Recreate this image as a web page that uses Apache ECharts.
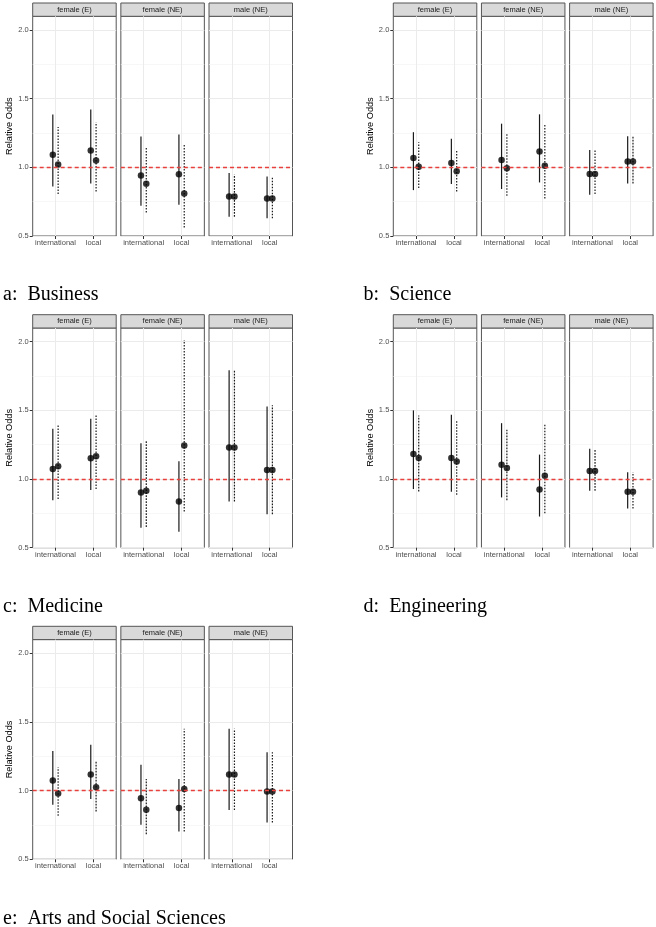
<!DOCTYPE html>
<html><head><meta charset="utf-8">
<script src="https://cdn.jsdelivr.net/npm/echarts@6/dist/echarts.min.js"></script>
<style>html,body{margin:0;padding:0;background:#fff}#c{width:656px;height:927px}</style>
</head><body><div id="c"></div>
<script>
// ---- data ----
const facets = ['female (E)', 'female (NE)', 'male (NE)'];
const categories = ['international', 'local'];
const panelTitles = ['a:  Business', 'b:  Science', 'c:  Medicine', 'd:  Engineering', 'e:  Arts and Social Sciences'];
const yTicks = [0.5, 1.0, 1.5, 2.0];
const refLine = 1.0;
// order: [F(E) intl, F(E) local, F(NE) intl, F(NE) local, M(NE) intl, M(NE) local]
const businessSolidMid  = [1.091, 1.122, 0.941, 0.949, 0.788, 0.773];
const businessSolidLo   = [0.861, 0.883, 0.720, 0.727, 0.641, 0.629];
const businessSolidHi   = [1.384, 1.422, 1.225, 1.239, 0.959, 0.934];
const businessDottedMid = [1.020, 1.049, 0.881, 0.810, 0.788, 0.773];
const businessDottedLo  = [0.805, 0.824, 0.671, 0.561, 0.641, 0.629];
const businessDottedHi  = [1.293, 1.329, 1.152, 1.164, 0.947, 0.932];

const scienceSolidMid  = [1.068, 1.032, 1.054, 1.115, 0.951, 1.042];
const scienceSolidLo   = [0.834, 0.878, 0.842, 0.890, 0.800, 0.883];
const scienceSolidHi   = [1.256, 1.208, 1.318, 1.386, 1.127, 1.227];
const scienceDottedMid = [1.005, 0.971, 0.993, 1.012, 0.951, 1.042];
const scienceDottedLo  = [0.849, 0.824, 0.793, 0.773, 0.805, 0.883];
const scienceDottedHi  = [1.183, 1.130, 1.244, 1.312, 1.127, 1.227];

const medicineSolidMid  = [1.073, 1.151, 0.902, 0.837, 1.229, 1.066];
const medicineSolidLo   = [0.846, 0.920, 0.646, 0.617, 0.837, 0.744];
const medicineSolidHi   = [1.366, 1.439, 1.261, 1.129, 1.793, 1.529];
const medicineDottedMid = [1.093, 1.166, 0.915, 1.244, 1.229, 1.066];
const medicineDottedLo  = [0.854, 0.927, 0.651, 0.763, 0.837, 0.744];
const medicineDottedHi  = [1.395, 1.468, 1.285, 2.012, 1.793, 1.537];

const engineeringSolidMid  = [1.183, 1.154, 1.105, 0.924, 1.059, 0.907];
const engineeringSolidLo   = [0.927, 0.907, 0.866, 0.727, 0.915, 0.785];
const engineeringSolidHi   = [1.500, 1.468, 1.407, 1.178, 1.220, 1.049];
const engineeringDottedMid = [1.154, 1.127, 1.080, 1.024, 1.059, 0.907];
const engineeringDottedLo  = [0.910, 0.885, 0.846, 0.751, 0.915, 0.785];
const engineeringDottedHi  = [1.463, 1.427, 1.359, 1.395, 1.215, 1.049];

const artsSolidMid  = [1.073, 1.117, 0.944, 0.873, 1.117, 0.993];
const artsSolidLo   = [0.898, 0.939, 0.751, 0.702, 0.859, 0.768];
const artsSolidHi   = [1.288, 1.334, 1.188, 1.085, 1.451, 1.280];
const artsDottedMid = [0.980, 1.024, 0.861, 1.012, 1.117, 0.993];
const artsDottedLo  = [0.817, 0.849, 0.683, 0.702, 0.859, 0.768];
const artsDottedHi  = [1.171, 1.215, 1.085, 1.451, 1.451, 1.280];

const panelData = [
  [businessSolidMid, businessSolidLo, businessSolidHi, businessDottedMid, businessDottedLo, businessDottedHi],
  [scienceSolidMid, scienceSolidLo, scienceSolidHi, scienceDottedMid, scienceDottedLo, scienceDottedHi],
  [medicineSolidMid, medicineSolidLo, medicineSolidHi, medicineDottedMid, medicineDottedLo, medicineDottedHi],
  [engineeringSolidMid, engineeringSolidLo, engineeringSolidHi, engineeringDottedMid, engineeringDottedLo, engineeringDottedHi],
  [artsSolidMid, artsSolidLo, artsSolidHi, artsDottedMid, artsDottedLo, artsDottedHi]
];

// ---- layout ----
const PANEL_X = [0, 360.6, 0, 360.6, 0];
const PANEL_Y = [0, 0, 311.7, 311.7, 623.3];
const FACET_LEFT0 = 32.7, FACET_STEP = 88.15, FACET_W = 83.5;
const PLOT_TOP = 16.3, PLOT_H = 219.7, STRIP_TOP = 3, STRIP_H = 13.3;
const X_MIN = 0.4, X_MAX = 2.6;
const DODGE = 0.07;
const SANS = 'Liberation Sans, Arial, sans-serif';

const grids = [], xAxes = [], yAxes = [], series = [], graphics = [];

function errRender(dashed) {
  return function (params, api) {
    const x = api.value(0), lo = api.value(1), hi = api.value(2);
    const p1 = api.coord([x, lo]), p2 = api.coord([x, hi]);
    return {
      type: 'line',
      shape: { x1: p1[0], y1: p1[1], x2: p2[0], y2: p2[1] },
      style: { stroke: '#1a1a1a', lineWidth: 1.2, lineDash: dashed ? [1.6, 1.4] : null }
    };
  };
}

function refRender(params, api) {
  const y = api.value(0);
  const p1 = api.coord([X_MIN, y]), p2 = api.coord([X_MAX, y]);
  const py = Math.floor(p1[1]) + 0.5; // crisp pixel row
  return {
    type: 'line', z2: 50,
    shape: { x1: p1[0], y1: py, x2: p2[0], y2: py },
    style: { stroke: '#e8403c', lineWidth: 1.4, lineDash: [4, 3] }
  };
}

panelData.forEach((pd, p) => {
  const [sMid, sLo, sHi, dMid, dLo, dHi] = pd;
  facets.forEach((fname, f) => {
    const g = p * 3 + f;
    const left = PANEL_X[p] + FACET_LEFT0 + f * FACET_STEP;
    const top = PANEL_Y[p] + PLOT_TOP;
    grids.push({ left, top, width: FACET_W, height: PLOT_H, show: true,
      borderColor: '#555', borderWidth: 1, backgroundColor: '#fff', containLabel: false });
    xAxes.push({
      gridIndex: g, type: 'value', min: X_MIN, max: X_MAX,
      axisLine: { show: false },
      axisTick: { show: true, length: 3, customValues: [1, 2], lineStyle: { color: '#333' } },
      axisLabel: { show: true, customValues: [1, 2], margin: 3, fontSize: 7.5, color: '#4d4d4d', fontFamily: SANS,
        formatter: v => categories[Math.round(v) - 1] || '' },
      splitLine: { show: true, lineStyle: { color: '#ebebeb', width: 1 } }
    });
    yAxes.push({
      gridIndex: g, type: 'value', min: 0.5, max: 2.1, interval: 0.5,
      axisLine: { show: false },
      axisTick: { show: f === 0, length: 3, customValues: yTicks, lineStyle: { color: '#333' } },
      axisLabel: { show: f === 0, customValues: yTicks, margin: 4, fontSize: 7.5, color: '#4d4d4d', fontFamily: SANS,
        formatter: v => v.toFixed(1) },
      splitLine: { show: true, lineStyle: { color: '#ebebeb', width: 1 } },
      minorTick: { show: false, splitNumber: 2 },
      minorSplitLine: { show: true, lineStyle: { color: '#f3f3f3', width: 0.7 } },
      name: f === 0 ? 'Relative Odds' : '', nameLocation: 'middle', nameGap: 18, nameRotate: 90,
      nameTextStyle: { fontSize: 9.2, color: '#000', fontFamily: SANS }
    });
    const idx = [2 * f, 2 * f + 1];
    const solid = idx.map((k, c) => [c + 1 - DODGE, sLo[k], sHi[k]]);
    const dotted = idx.map((k, c) => [c + 1 + DODGE, dLo[k], dHi[k]]);
    const pts = idx.map((k, c) => [c + 1 - DODGE, sMid[k]]).concat(idx.map((k, c) => [c + 1 + DODGE, dMid[k]]));
    series.push({ type: 'custom', xAxisIndex: g, yAxisIndex: g, renderItem: errRender(false),
      encode: { x: 0, y: [1, 2] }, data: solid, silent: true, z: 2 });
    series.push({ type: 'custom', xAxisIndex: g, yAxisIndex: g, renderItem: errRender(true),
      encode: { x: 0, y: [1, 2] }, data: dotted, silent: true, z: 2 });
    series.push({ type: 'scatter', xAxisIndex: g, yAxisIndex: g, data: pts, symbolSize: 6.5,
      itemStyle: { color: '#000' }, silent: true, z: 3 });
    series.push({ type: 'custom', xAxisIndex: g, yAxisIndex: g, renderItem: refRender,
      encode: { y: 0 }, data: [[refLine]], silent: true, z: 10 });
    // strip
    graphics.push({ type: 'rect', shape: { x: left, y: PANEL_Y[p] + STRIP_TOP, width: FACET_W, height: STRIP_H },
      style: { fill: '#d9d9d9', stroke: '#555', lineWidth: 1 } });
    graphics.push({ type: 'text', x: left + FACET_W / 2, y: PANEL_Y[p] + STRIP_TOP + STRIP_H / 2,
      style: { text: fname, fontSize: 7.5, fontFamily: SANS, fill: '#1a1a1a', textAlign: 'center', textVerticalAlign: 'middle' } });
  });
  graphics.push({ type: 'text', x: PANEL_X[p] + 3, y: PANEL_Y[p] + 295,
    style: { text: panelTitles[p], fontSize: 20, fontFamily: 'Liberation Serif, serif', fill: '#000',
      textAlign: 'left', textVerticalAlign: 'middle' } });
});

const chart = echarts.init(document.getElementById('c'), null, { renderer: 'canvas' });
chart.setOption({
  animation: false,
  backgroundColor: '#fff',
  grid: grids, xAxis: xAxes, yAxis: yAxes, series,
  graphic: { elements: graphics }
});
</script></body></html>
